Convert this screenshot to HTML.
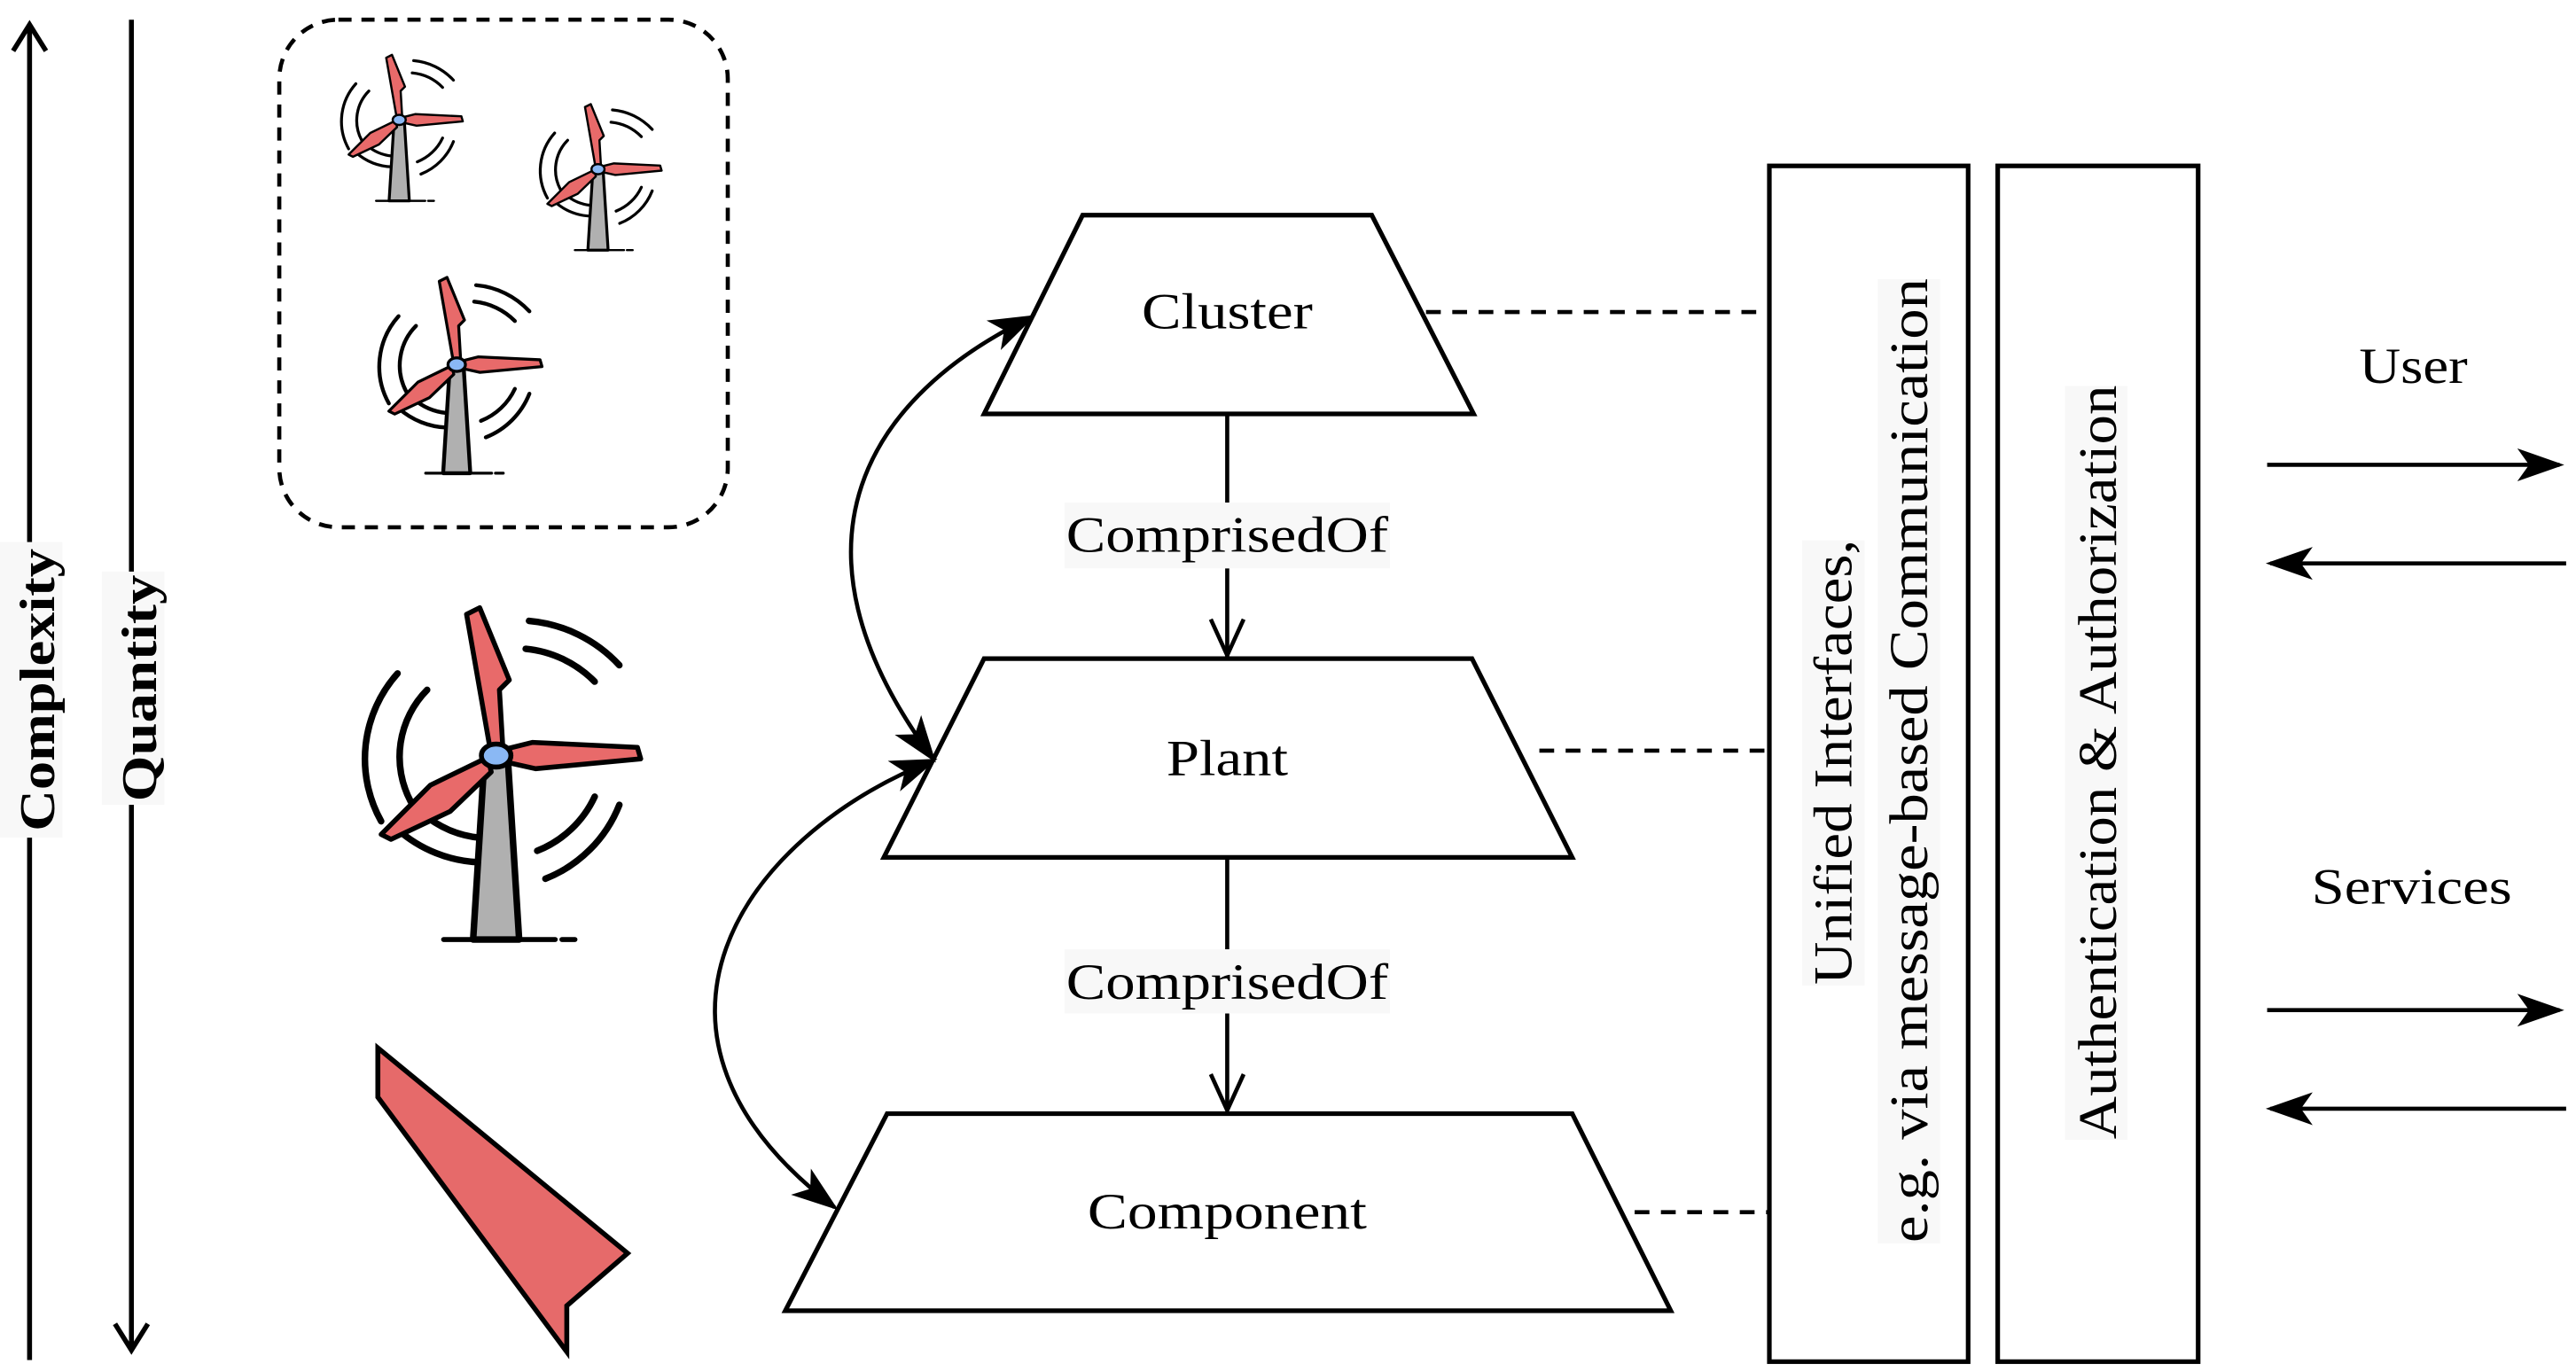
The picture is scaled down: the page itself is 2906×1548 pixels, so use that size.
<!DOCTYPE html>
<html><head><meta charset="utf-8"><style>html,body{margin:0;padding:0;background:#fff}svg{display:block}</style></head>
<body>
<svg width="2906" height="1548" viewBox="0 0 1568 835.3" preserveAspectRatio="none" xmlns="http://www.w3.org/2000/svg" font-family="'Liberation Serif', serif">
<defs>
<marker id="fb" viewBox="0 0 20 14" refX="18" refY="7" markerWidth="30" markerHeight="20" markerUnits="userSpaceOnUse" orient="auto-start-reverse">
<path d="M0,0 L20,7 L0,14 L5,7 Z" fill="#000"/>
</marker>
<g id="tb" stroke="#000" stroke-linejoin="round" stroke-linecap="round">
<g fill="none" stroke-width="4">
<path d="M-60,-50 A78,78 0 0 0 -70,40"/>
<path d="M-42,-40 A58,58 0 0 0 -52,28"/>
<path d="M20,-82 A85,85 0 0 1 75,-55"/>
<path d="M18,-65 A68,68 0 0 1 60,-45"/>
<path d="M75,30 A80,80 0 0 1 30,75"/>
<path d="M60,25 A65,65 0 0 1 25,58"/>
<path d="M-60,45 A80,80 0 0 0 -10,65"/>
<path d="M-45,35 A62,62 0 0 0 -10,50"/>
</g>
<polygon points="-7,0 7,0 14,112 -14,112" fill="#b0b0b0" stroke-width="4"/>
<line x1="-32" y1="112" x2="36" y2="112" stroke-width="3"/>
<line x1="40" y1="112" x2="48" y2="112" stroke-width="3"/>
<path d="M-4,-6 L-18,-86 L-10,-90 L8,-46 L2,-40 L4,-6 Z" fill="#e86a6a" stroke-width="3"/>
<path d="M6,-4 L22,-8 L86,-5 L88,2 L24,8 L6,4 Z" fill="#e86a6a" stroke-width="3"/>
<path d="M-5,1 L-40,18 L-70,48 L-64,51 L-28,34 L-3,10 Z" fill="#e86a6a" stroke-width="3"/>
<ellipse cx="0" cy="0" rx="9" ry="7" fill="#8ab8f4" stroke-width="3"/>
</g>
</defs>

<g stroke="#000" stroke-width="3" fill="none">
<line x1="18" y1="828" x2="18" y2="16"/>
<polyline points="8,31 18,15 28,31"/>
<line x1="80" y1="12" x2="80" y2="822"/>
<polyline points="70,806 80,822 90,806"/>
</g>
<rect x="0" y="330" width="38" height="180" fill="#f8f8f8"/>
<rect x="62" y="348" width="38" height="142" fill="#f8f8f8"/>
<text transform="translate(33,420) rotate(-90)" text-anchor="middle" font-size="30" font-weight="bold" textLength="172" lengthAdjust="spacingAndGlyphs">Complexity</text>
<text transform="translate(95,419) rotate(-90)" text-anchor="middle" font-size="30" font-weight="bold" textLength="138" lengthAdjust="spacingAndGlyphs">Quantity</text>

<rect x="170" y="12" width="273" height="309" rx="36" fill="none" stroke="#000" stroke-width="2.5" stroke-dasharray="8,6"/>
<use href="#tb" transform="translate(243,73) scale(0.44)"/>
<use href="#tb" transform="translate(364,103) scale(0.44)"/>
<use href="#tb" transform="translate(278,222) scale(0.59)"/>
<use href="#tb" transform="translate(302,460) scale(1)"/>

<polygon points="230,638 230,668 345,823 345,795 382,763" fill="#e66a6a" stroke="#000" stroke-width="3" stroke-linejoin="miter"/>

<g fill="#fff" stroke="#000" stroke-width="2.8">
<polygon points="659,131 835,131 897,252 599,252"/>
<polygon points="599,401 896,401 957,522 538,522"/>
<polygon points="540,678 957,678 1017,798 478,798"/>
</g>
<g font-size="31" text-anchor="middle">
<text x="747" y="200" textLength="104" lengthAdjust="spacingAndGlyphs">Cluster</text>
<text x="747" y="472" textLength="74" lengthAdjust="spacingAndGlyphs">Plant</text>
<text x="747" y="748" textLength="170" lengthAdjust="spacingAndGlyphs">Component</text>
</g>

<g stroke="#000" stroke-width="2.5" fill="none">
<line x1="747" y1="252" x2="747" y2="306"/>
<line x1="747" y1="346" x2="747" y2="400"/>
<polyline points="737,377 747,399 757,377"/>
<line x1="747" y1="522" x2="747" y2="578"/>
<line x1="747" y1="617" x2="747" y2="676"/>
<polyline points="737,654 747,676 757,654"/>
</g>
<rect x="648" y="306" width="198" height="40" fill="#f8f8f8"/>
<rect x="648" y="578" width="198" height="39" fill="#f8f8f8"/>
<g font-size="31" text-anchor="middle">
<text x="747" y="336" textLength="196" lengthAdjust="spacingAndGlyphs">ComprisedOf</text>
<text x="747" y="608" textLength="196" lengthAdjust="spacingAndGlyphs">ComprisedOf</text>
</g>

<g stroke="#000" stroke-width="2.5" fill="none">
<path d="M628,193 C530,240 470,330 568,462" marker-start="url(#fb)" marker-end="url(#fb)"/>
<path d="M568,463 C450,510 370,630 508,735" marker-start="url(#fb)" marker-end="url(#fb)"/>
</g>

<g stroke="#000" stroke-width="2.5" stroke-dasharray="9,7">
<line x1="868" y1="190" x2="1077" y2="190"/>
<line x1="937" y1="457" x2="1077" y2="457"/>
<line x1="995" y1="738" x2="1077" y2="738"/>
</g>

<g fill="#fff" stroke="#000" stroke-width="2.8">
<rect x="1077" y="101" width="121" height="728"/>
<rect x="1216" y="101" width="122" height="728"/>
</g>
<rect x="1097" y="329" width="38" height="271" fill="#f8f8f8"/>
<rect x="1143" y="170" width="38" height="587" fill="#f8f8f8"/>
<rect x="1257" y="235" width="38" height="459" fill="#f8f8f8"/>
<g font-size="33" text-anchor="middle">
<text transform="translate(1127,464) rotate(-90)" textLength="271" lengthAdjust="spacingAndGlyphs">Unified Interfaces,</text>
<text transform="translate(1173,463) rotate(-90)" textLength="587" lengthAdjust="spacingAndGlyphs">e.g. via  message-based Communication</text>
<text transform="translate(1288,464) rotate(-90)" textLength="459" lengthAdjust="spacingAndGlyphs">Authentication &amp; Authorization</text>
</g>

<g font-size="31" text-anchor="middle">
<text x="1469" y="233" textLength="66" lengthAdjust="spacingAndGlyphs">User</text>
<text x="1468" y="550" textLength="122" lengthAdjust="spacingAndGlyphs">Services</text>
</g>
<g stroke="#000" stroke-width="2.5">
<line x1="1380" y1="283" x2="1558" y2="283" marker-end="url(#fb)"/>
<line x1="1562" y1="343" x2="1382" y2="343" marker-end="url(#fb)"/>
<line x1="1380" y1="615" x2="1558" y2="615" marker-end="url(#fb)"/>
<line x1="1562" y1="675" x2="1382" y2="675" marker-end="url(#fb)"/>
</g>
</svg>
</body></html>
